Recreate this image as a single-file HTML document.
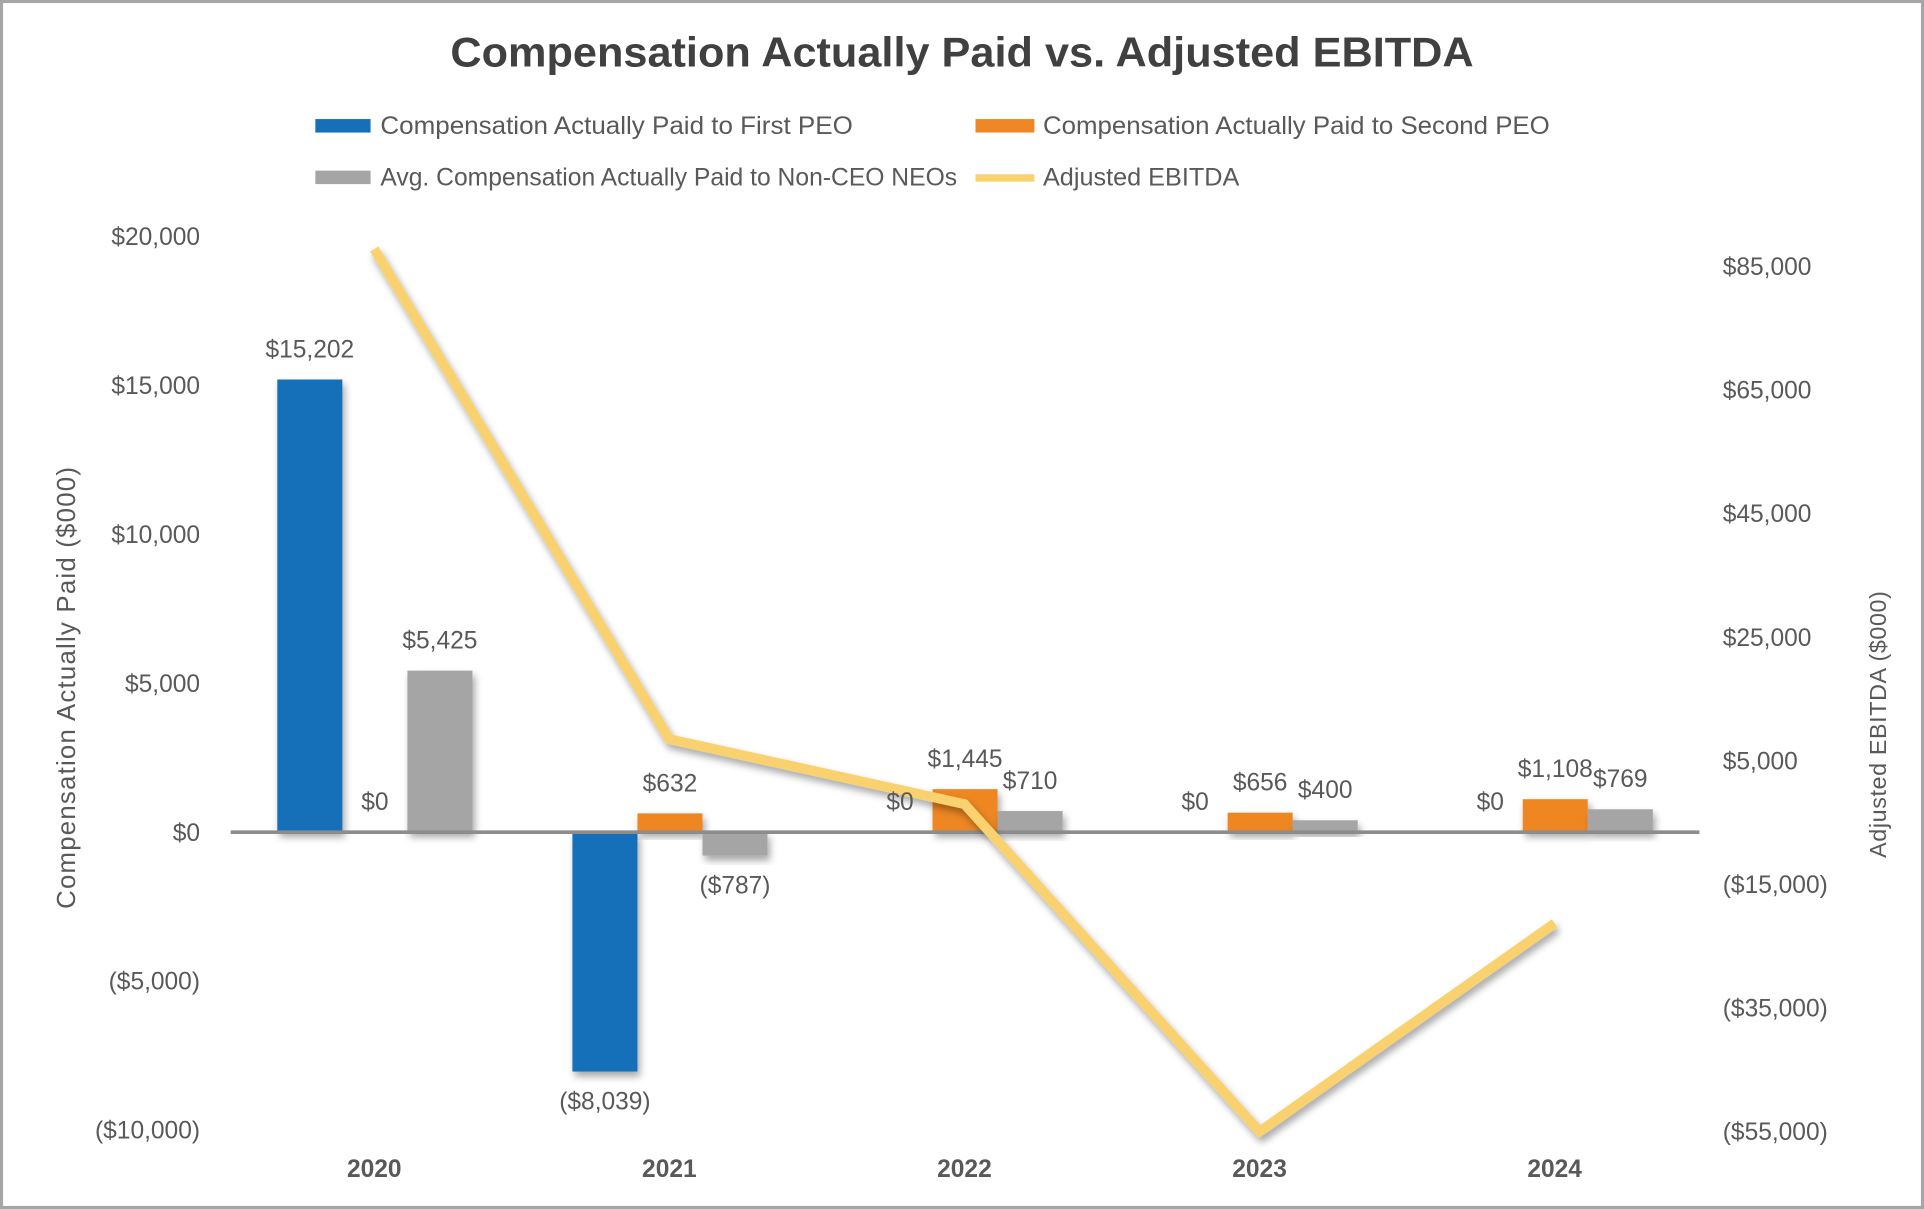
<!DOCTYPE html>
<html><head><meta charset="utf-8"><style>
html,body{margin:0;padding:0;background:#fff;}
svg{display:block;}
text{font-family:"Liberation Sans",sans-serif;fill:#595959;}
</style></head><body>
<svg id="chart" width="1924" height="1209" viewBox="0 0 1568 985" preserveAspectRatio="none" xmlns="http://www.w3.org/2000/svg">
<defs>
<filter id="sh" x="-20%" y="-20%" width="140%" height="160%"><feDropShadow dx="2" dy="4" stdDeviation="3" flood-color="#000" flood-opacity="0.35"/></filter>
</defs>
<rect x="1" y="1" width="1566" height="983" fill="#fff" stroke="#a6a6a6" stroke-width="3"/>
<text x="784" y="54" text-anchor="middle" font-size="34" font-weight="bold" style="fill:#404040" textLength="834" lengthAdjust="spacingAndGlyphs">Compensation Actually Paid vs. Adjusted EBITDA</text>
<g>
<rect x="257" y="97" width="45" height="11" fill="#1570b9"/>
<text x="310" y="109" font-size="20" textLength="385" lengthAdjust="spacingAndGlyphs">Compensation Actually Paid to First PEO</text>
<rect x="795" y="97" width="48" height="11" fill="#ee8724"/>
<text x="850" y="109" font-size="20" textLength="413" lengthAdjust="spacingAndGlyphs">Compensation Actually Paid to Second PEO</text>
<rect x="257" y="139" width="45" height="11" fill="#a5a5a5"/>
<text x="310" y="151" font-size="20" textLength="470" lengthAdjust="spacingAndGlyphs">Avg. Compensation Actually Paid to Non-CEO NEOs</text>
<rect x="795" y="142" width="48" height="6" fill="#f9d16e"/>
<text x="850" y="151" font-size="20" textLength="160" lengthAdjust="spacingAndGlyphs">Adjusted EBITDA</text>
</g>
<text transform="translate(61,560) rotate(-90)" text-anchor="middle" font-size="21" letter-spacing="1">Compensation Actually Paid ($000)</text>
<text transform="translate(1537,590) rotate(-90)" text-anchor="middle" font-size="19" letter-spacing="0.5">Adjusted EBITDA ($000)</text>
<g id="left-ticks"></g>
<g id="right-ticks"></g>
<g id="bars"></g>
<line x1="188" y1="678" x2="1385" y2="678" stroke="#8c8c8c" stroke-width="3"/>
<g id="line"></g>
<g id="labels"></g>
<g id="xlabels"></g>
</svg>
<script>
const categories = ["2020","2021","2022","2023","2024"];
const firstPeo = [15202, -8039, 0, 0, 0];
const secondPeo = [0, 632, 1445, 656, 1108];
const nonCeo = [5425, -787, 710, 400, 769];
const ebitda = [87800, 8500, -2000, -55000, -21300];
const leftTicks = [20000, 15000, 10000, 5000, 0, -5000, -10000];
const rightTicks = [85000, 65000, 45000, 25000, 5000, -15000, -35000, -55000];

const NS = "http://www.w3.org/2000/svg";
function yL(v){ return 678 - v * (121.3/5000); }
function yR(v){ return 645 - v * (100.7/20000); }
function xC(i){ return 305 + i * 240.5; }
function fmt(v){ const s = "$" + Math.abs(v).toLocaleString("en-US"); return v < 0 ? "(" + s + ")" : s; }
function mk(tag, attrs, parent){ const e = document.createElementNS(NS, tag); for (const k in attrs) e.setAttribute(k, attrs[k]); parent.appendChild(e); return e; }

const lt = document.getElementById("left-ticks");
leftTicks.forEach(v => {
  const t = mk("text", {x:163, y:yL(v)+7, "text-anchor":"end", "font-size":20}, lt);
  
  
  t.textContent = fmt(v);
});
const rt = document.getElementById("right-ticks");
rightTicks.forEach(v => {
  const t = mk("text", {x:1404, y:yR(v)+7, "font-size":20}, rt);
  
  
  t.textContent = fmt(v);
});

const bars = document.getElementById("bars");
const labels = document.getElementById("labels");
const series = [
  {vals:firstPeo, color:"#1570b9", off:-79, name:"first-peo"},
  {vals:secondPeo, color:"#ee8724", off:-26, name:"second-peo"},
  {vals:nonCeo, color:"#a5a5a5", off:27, name:"non-ceo"}
];
series.forEach(s => {
  s.vals.forEach((v, i) => {
    const x = xC(i) + s.off;
    const y0 = yL(0), y1 = yL(v);
    if (v !== 0) {
      const r = mk("rect", {x:x, y:Math.min(y0,y1), width:53, height:Math.abs(y1-y0), fill:s.color, filter:"url(#sh)"}, bars);
      
      
    }
    const ly = v >= 0 ? y1 - 18 : y1 + 31;
    const t = mk("text", {x:x+26.5, y:ly, "text-anchor":"middle", "font-size":20}, labels);
    
    
    t.textContent = fmt(v);
  });
});

const lg = document.getElementById("line");
const pts = ebitda.map((v,i) => xC(i) + "," + yR(v)).join(" ");
const pl = mk("polyline", {points:pts, fill:"none", stroke:"#f9d16e", "stroke-width":8, "stroke-linejoin":"miter", filter:"url(#sh)"}, lg);



const xl = document.getElementById("xlabels");
categories.forEach((c,i) => {
  const t = mk("text", {x:xC(i), y:959, "text-anchor":"middle", "font-size":20, "font-weight":"bold"}, xl);
  
  
  t.textContent = c;
});
</script>
</body></html>
